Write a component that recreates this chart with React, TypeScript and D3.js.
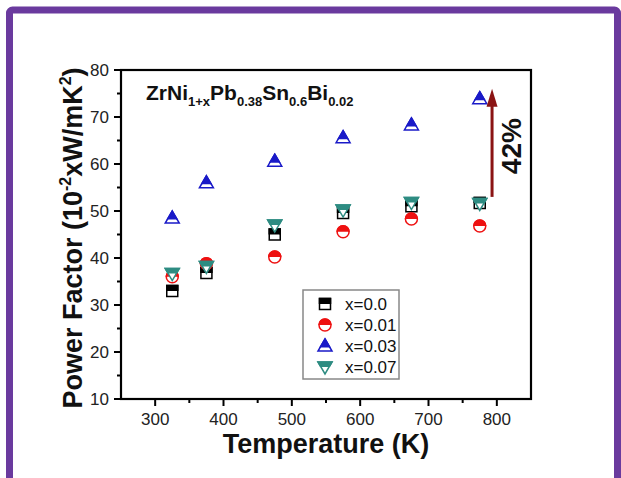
import React from 'react';
import * as d3 from 'd3';

// ---- data ----
const temperatures = [325, 375, 475, 575, 675, 775];
const pfX000 = [33.0, 36.8, 45.0, 49.6, 51.0, 51.7];
const pfX001 = [36.0, 38.8, 40.2, 45.6, 48.3, 46.8];
const pfX003 = [48.5, 56.0, 60.6, 65.6, 68.3, 73.9];
const pfX007 = [36.7, 38.2, 47.0, 50.2, 51.8, 51.6];
const seriesLabels = ['x=0.0', 'x=0.01', 'x=0.03', 'x=0.07'];
const xTickValues = [300, 400, 500, 600, 700, 800];
const yTickValues = [10, 20, 30, 40, 50, 60, 70, 80];
const xMinorValues = [350, 450, 550, 650, 750];
const yMinorValues = [15, 25, 35, 45, 55, 65, 75];
const xDomain = [250, 850];
const yDomain = [10, 80];
const arrowT = 793;
const arrowFrom = 53.0;
const arrowTo = 76.0;
const arrowLabel = '42%';

const W = 621;
const H = 478;
const M = { left: 121, right: 531, top: 70, bottom: 399 };
const FONT = '"Liberation Sans", Arial, sans-serif';

type Shape = 'square' | 'circle' | 'up' | 'down';
const series: { values: number[]; shape: Shape; color: string; label: string }[] = [
  { values: pfX000, shape: 'square', color: '#000000', label: seriesLabels[0] },
  { values: pfX001, shape: 'circle', color: '#ee1111', label: seriesLabels[1] },
  { values: pfX003, shape: 'up', color: '#1a1ac8', label: seriesLabels[2] },
  { values: pfX007, shape: 'down', color: '#2e8c82', label: seriesLabels[3] },
];

function shapePath(shape: Shape): string {
  if (shape === 'square') return 'M-5.5,-5.5H5.5V5.5H-5.5Z';
  if (shape === 'circle') {
    const p = d3.path();
    p.arc(0, 0, 6, 0, Math.PI * 2);
    p.closePath();
    return p.toString();
  }
  if (shape === 'up') return 'M0,-7L7,5L-7,5Z';
  return 'M-7,-5L7,-5L0,7Z';
}

function clipFor(shape: Shape): string {
  return shape === 'up' ? 'url(#clipUp)' : 'url(#clipHalf)';
}

function Marker({ shape, color, x, y }: { shape: Shape; color: string; x: number; y: number }) {
  const d = shapePath(shape);
  return (
    <g transform={`translate(${x},${y})`}>
      <path d={d} fill="#ffffff" stroke={color} strokeWidth={1.5} />
      <path d={d} fill={color} stroke={color} strokeWidth={1.5} clipPath={clipFor(shape)} />
    </g>
  );
}

export default function App() {
  const x = d3.scaleLinear().domain(xDomain).range([M.left, M.right]);
  const y = d3.scaleLinear().domain(yDomain).range([M.bottom, M.top]);

  const ax = x(arrowT);
  const ay0 = y(arrowFrom);
  const ay1 = y(arrowTo);

  return (
    <svg
      width={W}
      height={H}
      viewBox={`0 0 ${W} ${H}`}
      style={{ position: 'absolute', left: 0, top: 0, background: '#ffffff' }}
      fontFamily={FONT}
    >
      <defs>
        <clipPath id="clipHalf" clipPathUnits="userSpaceOnUse">
          <rect x={-20} y={-20} width={40} height={20} />
        </clipPath>
        <clipPath id="clipUp" clipPathUnits="userSpaceOnUse">
          <rect x={-20} y={-20} width={40} height={21.5} />
        </clipPath>
      </defs>
      <rect x={0} y={0} width={W} height={H} fill="#ffffff" />
      {/* purple frame */}
      <rect x={9.5} y={10} width={608} height={520} rx={3} fill="none" stroke="#6a3a9e" strokeWidth={7} />

      {/* plot frame */}
      <rect
        x={M.left}
        y={M.top}
        width={M.right - M.left}
        height={M.bottom - M.top}
        fill="none"
        stroke="#000"
        strokeWidth={2.2}
      />

      {/* y ticks */}
      {yTickValues.map((v) => (
        <g key={'yt' + v}>
          <line x1={M.left - 7} x2={M.left} y1={y(v)} y2={y(v)} stroke="#000" strokeWidth={2} />
          <text x={M.left - 12} y={y(v)} dy="0.35em" textAnchor="end" fontSize={17} fill="#222">
            {v}
          </text>
        </g>
      ))}
      {yMinorValues.map((v) => (
        <line key={'ym' + v} x1={M.left - 4} x2={M.left} y1={y(v)} y2={y(v)} stroke="#000" strokeWidth={2} />
      ))}

      {/* x ticks */}
      {xTickValues.map((v) => (
        <g key={'xt' + v}>
          <line x1={x(v)} x2={x(v)} y1={M.bottom} y2={M.bottom + 7} stroke="#000" strokeWidth={2} />
          <text x={x(v)} y={M.bottom + 26} textAnchor="middle" fontSize={17} fill="#222">
            {v}
          </text>
        </g>
      ))}
      {xMinorValues.map((v) => (
        <line key={'xm' + v} x1={x(v)} x2={x(v)} y1={M.bottom} y2={M.bottom + 4} stroke="#000" strokeWidth={2} />
      ))}

      {/* axis titles */}
      <text x={(M.left + M.right) / 2} y={453} textAnchor="middle" fontSize={27} fontWeight="bold" fill="#111">
        Temperature (K)
      </text>
      <text
        transform={`translate(82,238) rotate(-90)`}
        textAnchor="middle"
        fontSize={27}
        fontWeight="bold"
        fill="#111"
      >
        Power Factor (10
        <tspan fontSize={16} dy={-11}>-2</tspan>
        <tspan dy={11}>xW/mK</tspan>
        <tspan fontSize={16} dy={-11}>2</tspan>
        <tspan dy={11}>)</tspan>
      </text>

      {/* compound label */}
      <text x={146} y={100} fontSize={21} fontWeight="bold" fill="#111">
        ZrNi
        <tspan fontSize={13} dy={6}>1+x</tspan>
        <tspan dy={-6}>Pb</tspan>
        <tspan fontSize={13} dy={6}>0.38</tspan>
        <tspan dy={-6}>Sn</tspan>
        <tspan fontSize={13} dy={6}>0.6</tspan>
        <tspan dy={-6}>Bi</tspan>
        <tspan fontSize={13} dy={6}>0.02</tspan>
      </text>

      {/* data markers */}
      {series.map((s) =>
        s.values.map((v, i) => (
          <Marker key={s.label + i} shape={s.shape} color={s.color} x={x(temperatures[i])} y={y(v)} />
        ))
      )}

      {/* arrow annotation */}
      <line x1={ax} x2={ax} y1={ay0} y2={ay1 + 14} stroke="#8b1414" strokeWidth={3} />
      <path d={`M${ax},${ay1}L${ax + 5.5},${ay1 + 18}L${ax - 5.5},${ay1 + 18}Z`} fill="#8b1414" />
      <text
        transform={`translate(${ax + 29},${y(63.8)}) rotate(-90)`}
        textAnchor="middle"
        fontSize={28}
        fontWeight="bold"
        fill="#111"
      >
        {arrowLabel}
      </text>

      {/* legend */}
      <rect x={303} y={290} width={96} height={89} fill="#ffffff" stroke="#888" strokeWidth={1.5} />
      {series.map((s, i) => (
        <g key={'lg' + i}>
          <Marker shape={s.shape} color={s.color} x={325} y={304 + i * 21} />
          <text x={345} y={304 + i * 21} dy="0.35em" fontSize={17} fill="#111">
            {s.label}
          </text>
        </g>
      ))}
    </svg>
  );
}
